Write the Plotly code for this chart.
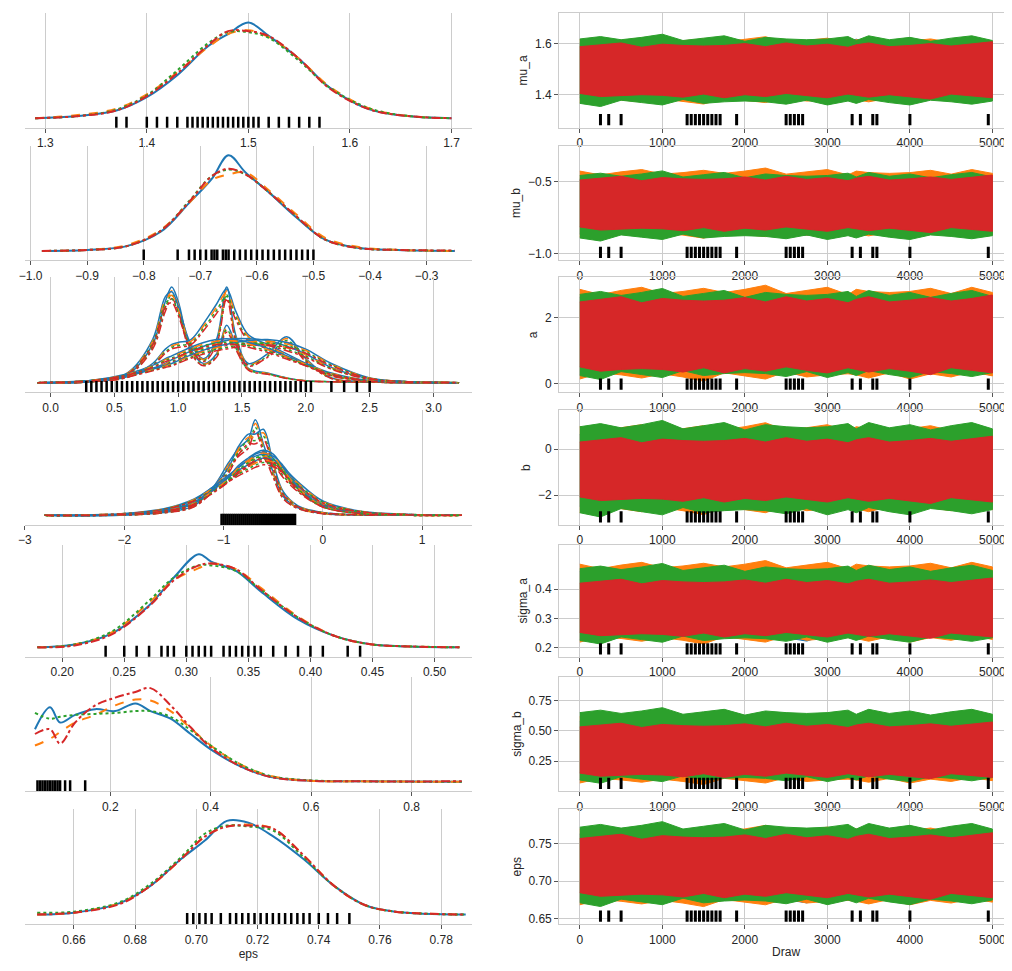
import plotly.graph_objects as go

COLORS = ["#1f77b4", "#ff7f0e", "#2ca02c", "#d62728"]
DASHES = ["solid", "dash", "dot", "dashdot"]
PARAMS = ["mu_a", "mu_b", "a", "b", "sigma_a", "sigma_b", "eps"]

# ---- KDE data (x grid, 4 chains) ----
kde_x = {
 "mu_a": [1.29,1.33,1.37,1.40,1.43,1.46,1.48,1.50,1.52,1.55,1.58,1.62,1.66,1.70],
 "mu_b": [-0.98,-0.90,-0.83,-0.77,-0.72,-0.68,-0.65,-0.62,-0.58,-0.53,-0.48,-0.42,-0.35,-0.25],
 "sigma_a": [0.18,0.21,0.24,0.27,0.29,0.31,0.32,0.34,0.36,0.39,0.42,0.45,0.48,0.52],
 "sigma_b": [0.05,0.08,0.10,0.13,0.17,0.21,0.25,0.28,0.32,0.36,0.40,0.46,0.52,0.60,0.70,0.90],
 "eps": [0.648,0.66,0.675,0.685,0.695,0.703,0.71,0.717,0.725,0.735,0.745,0.755,0.765,0.788],
}
kde_y = {
 "mu_a": [[0.0,0.02,0.08,0.22,0.45,0.75,0.88,1.0,0.86,0.62,0.32,0.09,0.02,0.0],
          [0.0,0.03,0.10,0.25,0.48,0.74,0.88,0.92,0.85,0.62,0.33,0.10,0.02,0.0],
          [0.0,0.02,0.09,0.24,0.50,0.78,0.90,0.90,0.84,0.60,0.32,0.10,0.02,0.0],
          [0.0,0.02,0.08,0.23,0.47,0.76,0.91,0.91,0.86,0.62,0.31,0.09,0.02,0.0]],
 "mu_b": [[0.0,0.01,0.05,0.20,0.50,0.75,1.0,0.82,0.62,0.35,0.12,0.03,0.01,0.0],
          [0.0,0.01,0.06,0.22,0.50,0.74,0.80,0.82,0.64,0.38,0.14,0.04,0.01,0.0],
          [0.0,0.01,0.05,0.21,0.52,0.78,0.85,0.80,0.62,0.36,0.12,0.03,0.01,0.0],
          [0.0,0.01,0.05,0.21,0.51,0.78,0.86,0.80,0.62,0.36,0.12,0.03,0.01,0.005]],
 "sigma_a": [[0.0,0.03,0.15,0.45,0.75,1.0,0.92,0.82,0.60,0.30,0.12,0.03,0.01,0.0],
             [0.0,0.03,0.16,0.48,0.72,0.85,0.90,0.84,0.64,0.33,0.12,0.03,0.01,0.0],
             [0.0,0.03,0.17,0.50,0.75,0.88,0.88,0.82,0.62,0.32,0.12,0.03,0.01,0.0],
             [0.0,0.02,0.14,0.44,0.72,0.88,0.90,0.84,0.62,0.32,0.12,0.03,0.01,0.0]],
 "sigma_b": [[0.55,0.78,0.62,0.70,0.76,0.74,0.82,0.74,0.66,0.50,0.34,0.16,0.05,0.01,0.005,0.0],
             [0.38,0.45,0.52,0.62,0.70,0.80,0.86,0.85,0.74,0.56,0.38,0.18,0.06,0.01,0.005,0.0],
             [0.72,0.66,0.68,0.70,0.71,0.72,0.74,0.74,0.68,0.54,0.38,0.18,0.06,0.015,0.005,0.0],
             [0.50,0.55,0.40,0.62,0.80,0.88,0.94,0.98,0.80,0.57,0.36,0.16,0.05,0.01,0.005,0.005]],
 "eps": [[0.0,0.02,0.12,0.30,0.58,0.78,0.98,0.96,0.82,0.58,0.30,0.10,0.03,0.0],
         [0.0,0.02,0.12,0.30,0.58,0.82,0.92,0.94,0.90,0.62,0.30,0.10,0.03,0.0],
         [0.02,0.03,0.13,0.32,0.60,0.85,0.93,0.92,0.88,0.60,0.30,0.10,0.03,0.0],
         [0.0,0.02,0.11,0.30,0.58,0.82,0.92,0.93,0.90,0.62,0.30,0.10,0.03,0.0]],
}
vec_x = {
 "a": [-0.1,0.3,0.6,0.8,0.9,0.95,1.0,1.1,1.2,1.3,1.38,1.45,1.55,1.7,1.85,2.0,2.2,2.5,2.8,3.2],
 "b": [-2.8,-2.0,-1.6,-1.3,-1.1,-0.95,-0.85,-0.75,-0.68,-0.6,-0.5,-0.4,-0.25,0.0,0.4,0.9,1.4],
}
vec_y = {
 "a": [[0,0.01,0.08,0.4,0.85,1.0,0.85,0.35,0.2,0.3,0.6,0.4,0.15,0.1,0.05,0.02,0.01,0.005,0,0],
       [0,0.01,0.1,0.45,0.9,0.95,0.8,0.4,0.25,0.45,1.0,0.5,0.2,0.3,0.48,0.25,0.05,0.01,0,0],
       [0,0.01,0.06,0.2,0.35,0.4,0.42,0.45,0.62,0.82,0.98,0.75,0.5,0.4,0.3,0.2,0.08,0.02,0.01,0],
       [0,0.02,0.08,0.15,0.2,0.24,0.27,0.33,0.38,0.42,0.44,0.46,0.46,0.44,0.38,0.3,0.16,0.04,0.01,0],
       [0,0.02,0.07,0.14,0.18,0.2,0.23,0.29,0.34,0.38,0.4,0.42,0.44,0.45,0.42,0.35,0.2,0.05,0.01,0],
       [0,0.02,0.09,0.18,0.25,0.28,0.31,0.37,0.42,0.45,0.46,0.45,0.42,0.36,0.28,0.2,0.1,0.02,0,0]],
 "b": [[0,0.005,0.03,0.1,0.3,0.55,0.7,0.8,1.0,0.75,0.45,0.2,0.08,0.02,0.005,0,0],
       [0,0.005,0.04,0.12,0.3,0.5,0.72,0.85,0.85,0.9,0.55,0.25,0.1,0.03,0.005,0,0],
       [0,0.01,0.06,0.16,0.3,0.42,0.5,0.58,0.64,0.66,0.6,0.45,0.28,0.1,0.02,0.005,0],
       [0,0.01,0.05,0.14,0.28,0.4,0.5,0.58,0.62,0.64,0.62,0.52,0.32,0.12,0.03,0.005,0],
       [0,0.02,0.07,0.17,0.3,0.4,0.47,0.53,0.57,0.6,0.58,0.5,0.35,0.15,0.04,0.01,0],
       [0,0.01,0.05,0.13,0.27,0.4,0.52,0.6,0.65,0.68,0.64,0.5,0.3,0.1,0.02,0.005,0]],
}
rug_left = {
 "mu_a": [1.37,1.38,1.40,1.41,1.42,1.43,1.44,1.445,1.45,1.455,1.46,1.465,1.47,1.475,1.48,1.485,1.49,1.495,1.50,1.505,1.51,1.52,1.53,1.54,1.55,1.56,1.57],
 "mu_b": [-0.80,-0.74,-0.72,-0.71,-0.70,-0.69,-0.68,-0.675,-0.67,-0.66,-0.655,-0.65,-0.64,-0.63,-0.62,-0.61,-0.60,-0.59,-0.58,-0.57,-0.56,-0.55,-0.54,-0.53,-0.52,-0.51,-0.50],
 "a": [0.28+0.04*i for i in range(0, 45)] + [2.2,2.3,2.4,2.5],
 "b": [-1.02+0.02*i for i in range(0, 38)],
 "sigma_a": [0.235,0.25,0.26,0.27,0.28,0.285,0.29,0.30,0.305,0.31,0.315,0.32,0.33,0.335,0.34,0.345,0.35,0.355,0.36,0.37,0.38,0.39,0.40,0.41,0.43,0.44],
 "sigma_b": [0.055,0.06,0.065,0.07,0.075,0.08,0.085,0.09,0.095,0.10,0.11,0.12,0.15],
 "eps": [0.697,0.699,0.701,0.703,0.705,0.708,0.711,0.713,0.715,0.717,0.719,0.721,0.723,0.725,0.727,0.729,0.731,0.733,0.735,0.737,0.740,0.743,0.746,0.750],
}
left_xrange = {"mu_a": [1.28,1.72], "mu_b": [-1.01,-0.22], "a": [-0.2,3.3], "b": [-3.0,1.5],
               "sigma_a": [0.17,0.53], "sigma_b": [0.03,0.92], "eps": [0.644,0.79]}
left_dtick = {"mu_a": 0.1, "mu_b": 0.1, "a": 0.5, "b": 1, "sigma_a": 0.05, "sigma_b": 0.2, "eps": 0.02}
left_tick0 = {"mu_a": 1.3, "mu_b": -1.0, "a": 0, "b": -3, "sigma_a": 0.2, "sigma_b": 0.2, "eps": 0.66}
left_fmt = {"mu_a": ".1f", "mu_b": ".1f", "a": ".1f", "b": "d", "sigma_a": ".2f", "sigma_b": ".1f", "eps": ".2f"}

draws = [0,250,500,750,1000,1250,1500,1750,2000,2250,2500,2750,3000,3250,3350,3500,3750,4000,4250,4500,4750,5000]
env = {
 "mu_a": [(1.38,1.62),(1.36,1.63),(1.35,1.64),(1.38,1.61)],
 "mu_b": [(-0.88,-0.45),(-0.90,-0.40),(-0.92,-0.42),(-0.86,-0.45)],
 "a": [(0.2,2.8),(0.05,3.0),(0.1,2.9),(0.25,2.7)],
 "b": [(-2.6,0.9),(-2.9,1.2),(-3.0,1.3),(-2.4,0.6)],
 "sigma_a": [(0.22,0.48),(0.21,0.50),(0.21,0.49),(0.23,0.44)],
 "sigma_b": [(0.08,0.62),(0.05,0.65),(0.06,0.70),(0.10,0.58)],
 "eps": [(0.67,0.77),(0.665,0.775),(0.665,0.78),(0.675,0.765)],
}
wiggle = [0.0,0.15,-0.1,0.2,-0.05,0.1,-0.15,0.05,0.2,-0.1,0.0,0.15,-0.05,0.1,0.3,-0.1,0.05,0.2,-0.15,0.1,0.0,-0.05]
trace_yrange = {"mu_a": [1.27,1.72], "mu_b": [-1.05,-0.25], "a": [-0.25,3.2], "b": [-3.3,1.7],
                "sigma_a": [0.17,0.55], "sigma_b": [0.0,0.95], "eps": [0.643,0.795]}
trace_ticks = {"mu_a": [1.4,1.6], "mu_b": [-1.0,-0.5], "a": [0,2], "b": [-2,0],
               "sigma_a": [0.2,0.3,0.4], "sigma_b": [0.25,0.5,0.75], "eps": [0.65,0.70,0.75]}
trace_ticktext = {"mu_a": ["1.4","1.6"], "mu_b": ["−1.0","−0.5"], "a": ["0","2"], "b": ["−2","0"],
                  "sigma_a": ["0.2","0.3","0.4"], "sigma_b": ["0.25","0.50","0.75"], "eps": ["0.65","0.70","0.75"]}
diverg = [250,350,500,1300,1350,1400,1450,1500,1550,1600,1650,1700,1900,2500,2550,2600,2650,2700,3300,3400,3550,3600,4000,4950]

W, Hpx = 1012, 971
rows_px = [(5,120),(138,253),(270,385),(403,518),(538,650),(670,785),(803,918)]
fig = go.Figure()
layout = {}
TF = dict(size=12, color="#262626")

def yd(a, b):
    return [1 - b / Hpx, 1 - a / Hpx]

for i, p in enumerate(PARAMS):
    n = i + 1
    xl, yl = f"x{2*n-1}", f"y{2*n-1}"
    xr, yr = f"x{2*n}", f"y{2*n}"
    if p in kde_x:
        for c in range(4):
            fig.add_trace(go.Scatter(x=kde_x[p], y=kde_y[p][c], mode="lines", line=dict(color=COLORS[c], dash=DASHES[c], width=2, shape="spline"), xaxis=xl, yaxis=yl, showlegend=False))
    else:
        for g, ys in enumerate(vec_y[p]):
            for c in range(4):
                fig.add_trace(go.Scatter(x=vec_x[p], y=[v * (1 - 0.04 * c) for v in ys], mode="lines", line=dict(color=COLORS[c], dash=DASHES[c], width=1.5, shape="spline"), xaxis=xl, yaxis=yl, showlegend=False))
    fig.add_trace(go.Scatter(x=rug_left[p], y=[-0.05] * len(rug_left[p]), mode="markers",
                             marker=dict(symbol="line-ns", size=9, line=dict(color="black", width=2.5)), xaxis=xl, yaxis=yl, showlegend=False))
    for c in range(4):
        lo, hi = env[p][c]
        mid, hw = (lo + hi) / 2, (hi - lo) / 2
        k = c * 5
        up = [mid + hw * (1 + 0.5 * wiggle[(j + k) % len(wiggle)]) * 0.85 for j in range(len(draws))]
        dn = [mid - hw * (1 + 0.5 * wiggle[(j + k + 3) % len(wiggle)]) * 0.85 for j in range(len(draws))]
        fig.add_trace(go.Scatter(x=draws + draws[::-1], y=up + dn[::-1], fill="toself", mode="lines",
                                 fillcolor=COLORS[c], line=dict(color=COLORS[c], width=1), xaxis=xr, yaxis=yr, showlegend=False))
    y0, y1 = trace_yrange[p]
    fig.add_trace(go.Scatter(x=diverg, y=[y0 + 0.07 * (y1 - y0)] * len(diverg), mode="markers",
                             marker=dict(symbol="line-ns", size=8, line=dict(color="black", width=3)), xaxis=xr, yaxis=yr, showlegend=False))
    a, b = rows_px[i]
    dom = yd(a, b)
    axn = "" if n == 1 else str(2*n-1)
    axr = str(2*n)
    layout[f"xaxis{axn}"] = dict(domain=[10/W, 460/W], anchor=yl, range=left_xrange[p], tick0=left_tick0[p], dtick=left_dtick[p],
                                 tickformat=left_fmt[p],
                                 showgrid=True, gridcolor="#cccccc", zeroline=False, showline=True, linecolor="#cccccc",
                                 ticks="outside", ticklen=4, tickcolor="#555", tickfont=TF,
                                 title=dict(text="eps" if p == "eps" else "", font=TF, standoff=2))
    layout[f"yaxis{axn}"] = dict(domain=dom, anchor=xl, range=[-0.1, 1.1], showticklabels=False, showgrid=False, zeroline=False)
    layout[f"xaxis{axr}"] = dict(domain=[548/W, 1005/W], anchor=yr, range=[-250, 5250], tickvals=[0,1000,2000,3000,4000,5000],
                                 showgrid=True, gridcolor="#cccccc", zeroline=False, showline=True, mirror=True, linecolor="#cccccc",
                                 ticks="outside", ticklen=4, tickcolor="#555", tickfont=TF,
                                 title=dict(text="Draw" if p == "eps" else "", font=TF, standoff=2))
    layout[f"yaxis{axr}"] = dict(domain=dom, anchor=xr, range=trace_yrange[p], tickvals=trace_ticks[p], ticktext=trace_ticktext[p],
                                 showgrid=True, gridcolor="#cccccc", zeroline=False, showline=True, mirror=True, linecolor="#cccccc",
                                 ticks="outside", ticklen=4, tickcolor="#555", tickfont=TF,
                                 title=dict(text=p, font=TF, standoff=4))

fig.update_layout(width=W, height=Hpx, margin=dict(l=0, r=0, t=0, b=0), paper_bgcolor="white", plot_bgcolor="white",
                  font=dict(family="Liberation Sans, Arial"), **layout)
fig.write_html("out.html")
